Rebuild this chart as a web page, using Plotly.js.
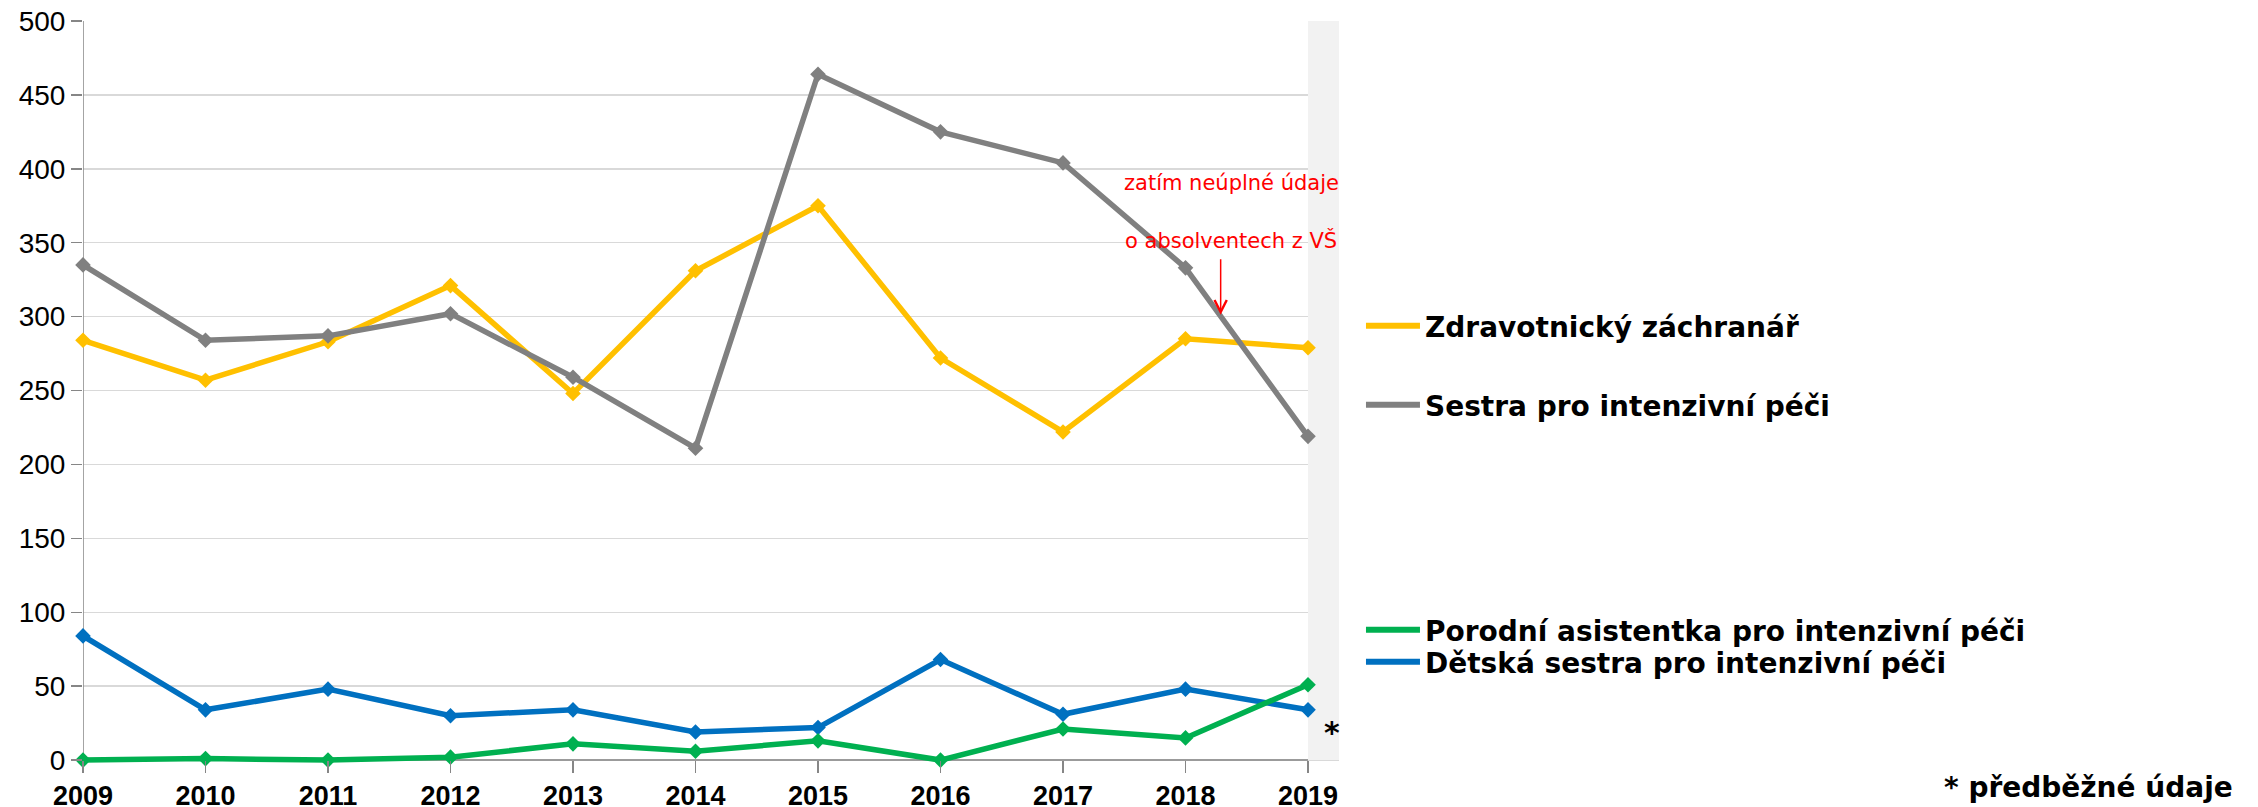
<!DOCTYPE html>
<html>
<head>
<meta charset="utf-8">
<script src="https://cdn.plot.ly/plotly-3.0.1.min.js"></script>
<style>html,body{margin:0;padding:0;background:#fff;}#chart{width:2258px;height:807px;}</style>
</head>
<body>
<div id="chart"></div>
<script>
// ---- data ----
const years = [2009, 2010, 2011, 2012, 2013, 2014, 2015, 2016, 2017, 2018, 2019];
const zdravotnickyZachranar = [284, 257, 283, 321, 248, 331, 375, 272, 222, 285, 279];
const sestraIntenzivni = [335, 284, 287, 302, 259, 211, 464, 425, 404, 333, 219];
const porodniAsistentka = [0, 1, 0, 2, 11, 6, 13, 0, 21, 15, 51];
const detskaSestra = [84, 34, 48, 30, 34, 19, 22, 68, 31, 48, 34];
const seriesNames = [
  'Zdravotnický záchranář',
  'Sestra pro intenzivní péči',
  'Porodní asistentka pro intenzivní péči',
  'Dětská sestra pro intenzivní péči'
];
const yTicks = [0, 50, 100, 150, 200, 250, 300, 350, 400, 450, 500];
const noteTop = 'zatím neúplné údaje';
const noteBottom = 'o absolventech z VŠ';
const footnote = '* předběžné údaje';

// ---- styling ----
const colors = ['#FFC000', '#808080', '#00B050', '#0070C0'];
const seriesValues = [zdravotnickyZachranar, sestraIntenzivni, porodniAsistentka, detskaSestra];
const legendIds = ['legend', 'legend2', 'legend3', 'legend4'];
const lastYear = years[years.length - 1];
const firstYear = years[0];
const xEnd = lastYear + 0.253;

const traces = [];
const drawOrder = [3, 2, 0, 1];
drawOrder.forEach(i => {
  traces.push({
    x: years, y: seriesValues[i], type: 'scatter', mode: 'lines+markers',
    name: seriesNames[i], showlegend: false, cliponaxis: false,
    line: {color: colors[i], width: 5.5},
    marker: {symbol: 'diamond', size: 12, color: colors[i]},
    hoverinfo: 'skip'
  });
});
// legend-only entries (line swatch without marker)
seriesNames.forEach((n, i) => {
  traces.push({
    x: [null], y: [null], type: 'scatter', mode: 'lines', name: n,
    legend: legendIds[i], line: {color: colors[i], width: 6}, hoverinfo: 'skip'
  });
});

const legendFont = {family: 'DejaVu Sans, Verdana, sans-serif', size: 28, color: '#000', weight: 'bold'};
function mkLegend(y) {
  return {x: 1.0175, xanchor: 'left', y: y, yanchor: 'middle', font: legendFont,
          bgcolor: 'rgba(0,0,0,0)', borderwidth: 0, itemwidth: 54, itemclick: false, itemdoubleclick: false};
}

const layout = {
  width: 2258, height: 807,
  margin: {l: 83, r: 919, t: 21, b: 41, pad: 0},
  paper_bgcolor: '#ffffff', plot_bgcolor: '#ffffff',
  showlegend: true,
  legend: mkLegend(0.5906),
  legend2: mkLegend(0.4846),
  legend3: mkLegend(0.1826),
  legend4: mkLegend(0.1396),
  xaxis: {
    range: [firstYear, xEnd], tickvals: years, ticktext: years.map(String),
    showgrid: false, zeroline: false, showline: false,
    anchor: 'free', position: 4 / 504,
    ticks: 'outside', ticklen: 12, tickwidth: 1.5, tickcolor: '#868686',
    tickfont: {family: 'Liberation Sans, Arial, sans-serif', size: 27, color: '#000', weight: 'bold'},
    ticklabelstandoff: 0,
    fixedrange: true
  },
  yaxis: {
    range: [-4, 500], tickvals: yTicks,
    showgrid: true, gridcolor: '#d9d9d9', gridwidth: 1.5,
    zeroline: false, showline: false,
    ticks: 'outside', ticklen: 11, tickwidth: 1.5, tickcolor: '#868686',
    tickfont: {family: 'Liberation Sans, Arial, sans-serif', size: 28, color: '#000'},
    fixedrange: true
  },
  shapes: [
    {type: 'rect', xref: 'x', yref: 'y', x0: lastYear, x1: xEnd, y0: 0, y1: yTicks[yTicks.length - 1],
     fillcolor: '#f2f2f2', line: {width: 0}, layer: 'between'},
    {type: 'line', xref: 'x', yref: 'y', x0: firstYear, x1: lastYear, y0: 0, y1: 0,
     line: {color: '#868686', width: 1.5}, layer: 'between'},
    {type: 'line', xref: 'x', yref: 'y', x0: firstYear, x1: firstYear, y0: 0, y1: yTicks[yTicks.length - 1],
     line: {color: '#868686', width: 1.5}, layer: 'between'}
  ],
  annotations: [
    {xref: 'x', yref: 'y', x: 2018.375, y: 390.3, text: noteTop, showarrow: false,
     font: {family: 'DejaVu Sans, Verdana, sans-serif', size: 21, color: '#FF0000'}},
    {xref: 'x', yref: 'y', x: 2018.375, y: 351.8, text: noteBottom, showarrow: false,
     font: {family: 'DejaVu Sans, Verdana, sans-serif', size: 21, color: '#FF0000'}},
    {xref: 'x', yref: 'y', x: 2018.287, y: 301.2, text: '', showarrow: true,
     ax: 0, ay: -57, axref: 'pixel', ayref: 'pixel', arrowcolor: '#FF0000', arrowwidth: 1.5,
     arrowhead: 5, arrowsize: 1.6, standoff: 0},
    {xref: 'x', yref: 'y', x: 2019.196, y: 18.5, text: '*', showarrow: false,
     font: {family: 'DejaVu Sans, Verdana, sans-serif', size: 30, color: '#000', weight: 'bold'}},
    {xref: 'paper', yref: 'paper', x: 1.7134, xanchor: 'right', y: -0.0282, yanchor: 'middle',
     text: footnote, showarrow: false,
     font: {family: 'DejaVu Sans, Verdana, sans-serif', size: 28, color: '#000', weight: 'bold'}}
  ],
  hovermode: false
};

Plotly.newPlot('chart', traces, layout, {displayModeBar: false, staticPlot: true});
</script>
</body>
</html>
